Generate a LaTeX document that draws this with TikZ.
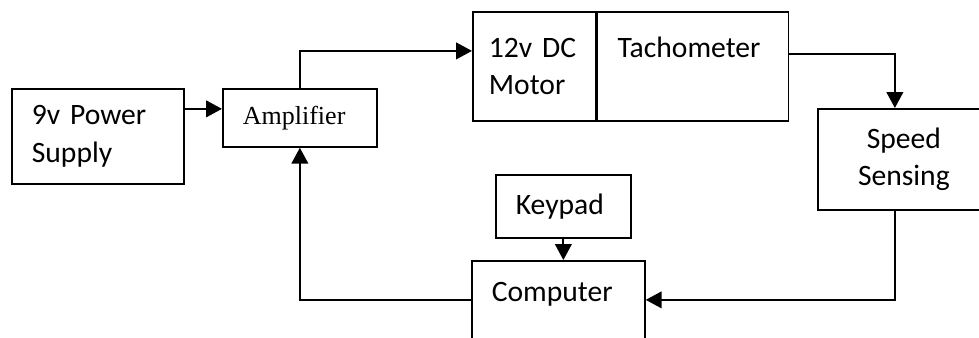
\documentclass[tikz,border=0pt]{standalone}
\usepackage{fontspec}
\setmainfont{Carlito}
\newfontfamily\ampfont{Liberation Serif}
\usepackage{tikz}
\usetikzlibrary{arrows.meta,calc}

\begin{document}
\begin{tikzpicture}[x=0.75pt,y=-0.75pt,
  blk/.style={draw,line width=1.3pt,anchor=north west,inner xsep=15pt,inner ysep=0pt,
    align=left,font=\fontsize{22.2}{28}\selectfont},
  conn/.style={line width=1.6pt,-{Triangle[length=12pt,width=12.5pt]}}]
\clip (0,0) rectangle (979,337);
\node[blk,text width=99pt,minimum height=71.25pt] (psu) at (11,88) {9v Power\\Supply};
\node[blk,text width=85.5pt,minimum height=43.5pt,font=\ampfont\fontsize{19.5}{24}\selectfont] (amp) at (222,88) {Amplifier};
\node[blk,text width=68.25pt,inner xsep=12pt,minimum height=81.75pt] (motor) at (472,11) {12v DC\\Motor};
\node[blk,text width=113.25pt,minimum height=81.75pt] (tach) at (motor.north east) {Tachometer\\\mbox{}};
\node[blk,text width=99pt,minimum height=75.75pt,align=center] (speed) at (817,108) {Speed\\Sensing};
\node[blk,text width=71.25pt,minimum height=47.25pt] (keypad) at (495,174) {Keypad};
\node[blk,text width=99.75pt,minimum height=75pt] (comp) at (471,260) {Computer\\\mbox{}};

\draw[conn] ([yshift=6.75pt]amp.west -| psu.east) -- ([yshift=6.75pt]amp.west);
\draw[conn] (amp.north) |- ([yshift=11.6pt]motor.west);
\draw[conn] ([yshift=9.4pt]tach.east) -| ([xshift=-6.75pt]speed.north);
\draw[conn] ([xshift=-6.75pt]speed.south) |- ([yshift=8.25pt]comp.east);
\draw[conn] ([yshift=8.25pt]comp.west) -| (amp.south);
\draw[conn] (keypad.south) -- (keypad.south |- comp.north);
\end{tikzpicture}
\end{document}
